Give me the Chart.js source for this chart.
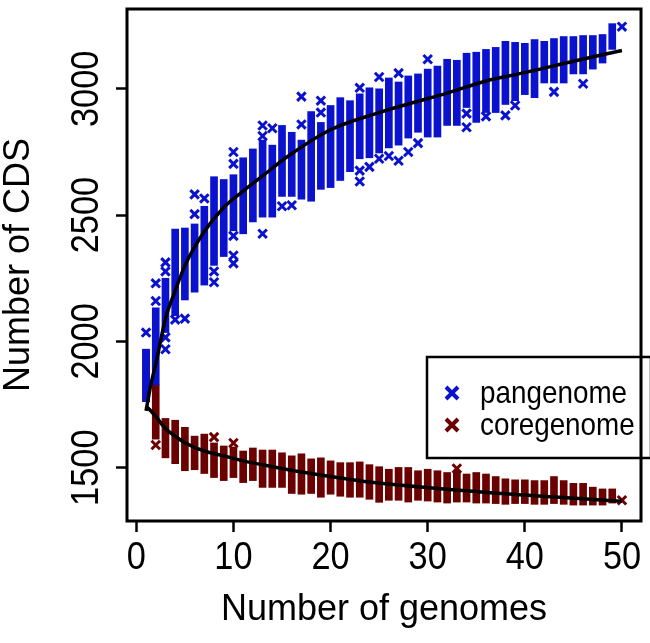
<!DOCTYPE html>
<html>
<head>
<meta charset="utf-8">
<script src="https://cdn.jsdelivr.net/npm/chart.js@4/dist/chart.umd.min.js"></script>
<style>
  html, body { margin: 0; padding: 0; background: #fff; }
  #wrap { width: 650px; height: 643px; }
</style>
</head>
<body>
<div id="wrap"><canvas id="pangenome-chart"></canvas></div>
<script>
// number of genomes sampled (x)
const genomes = [1,2,3,4,5,6,7,8,9,10,11,12,13,14,15,16,17,18,19,20,21,22,23,24,25,
                 26,27,28,29,30,31,32,33,34,35,36,37,38,39,40,41,42,43,44,45,46,47,48,49,50];

// dense part of each column of permutations (top / bottom)
const panHigh = [1969,2133,2250,2445,2449,2465,2535,2652,2641,2660,2727,2762,2797,2777,2855,2828,2797,2910,2867,2934,2965,2953,2980,3004,3000,
                 3043,3027,3051,3059,3078,3090,3117,3113,3141,3145,3156,3164,3188,3184,3180,3195,3188,3199,3207,3207,3211,3211,3215,3258,null];
const panLow  = [1762,1828,2035,2102,2164,2195,2223,2301,2336,2438,2426,2473,2492,2492,2574,2574,2563,2555,2602,2609,2637,2672,2723,2727,2746,
                 2766,2777,2805,2828,2809,2809,2855,2855,2926,2867,2906,2906,2938,2953,2977,2965,3023,3023,3023,3059,3059,3078,3102,3156,null];
const coreHigh = [1969,1828,1695,1688,1660,1625,1633,1598,1586,1582,1566,1578,1570,1570,1559,1547,1555,1535,1539,1527,1520,1520,1523,1512,1504,
                  1494,1501,1501,1488,1494,1488,1481,1488,1475,1481,1475,1465,1456,1452,1452,1449,1449,1465,1449,1438,1438,1423,1416,1416,null];
const coreLow  = [1762,1613,1539,1516,1488,1492,1477,1461,1449,1461,1441,1449,1422,1422,1422,1398,1395,1398,1383,1395,1387,1383,1383,1375,1363,
                  1371,1371,1364,1371,1368,1364,1360,1364,1364,1360,1360,1358,1355,1358,1358,1355,1355,1358,1355,1352,1352,1352,1352,1360,null];

// loose single points outside the dense columns
const panOutN = [1,2,2,3,3,3,3,4,5,6,6,7,8,8,10,10,10,10,10,13,13,13,14,15,16,17,17,19,19,23,23,23,24,25,25,26,27,27,28,29,30,34,34,36,38,39,43,46,50];
const panOutV = [2035,2230,2160,2313,2277,2016,1969,2086,2090,2582,2504,2566,2277,2234,2750,2703,2418,2340,2309,2855,2813,2426,2844,2535,2539,2969,2859,
                 2953,2906,3004,2676,2633,2691,3047,2723,2734,3062,2715,2750,2785,3117,2902,2848,2891,2895,2934,2988,3020,3246];
const coreOutN = [2,8,10,33,50];
const coreOutV = [1590,1621,1598,1497,1371];

// fitted curves
const panFitN = [1,1.5,2,3,4,5,7,9,11,13,15.5,20,25,28,32,36,40,45,50];
const panFitV = [1725,1830,1910,2090,2200,2300,2435,2530,2595,2655,2730,2838,2906,2940,2983,3031,3064,3109,3152];
const coreFitN = [1,2,3,4,5,7,9,11,14,17,20.5,24,35.5,45.6,50];
const coreFitV = [1745,1703,1655,1625,1599,1566,1547,1527,1504,1483,1462,1443,1404,1378,1367];

const xTicks = [0,10,20,30,40,50];
const yTicks = [1500,2000,2500,3000];

const panColor = '#0A12CD';
const coreColor = '#6A0000';
const fontFamily = "'Liberation Sans', Arial, sans-serif";

const columns = (lo, hi) => genomes
  .map((n, i) => hi[i] == null ? null : { x: n, y: [lo[i], hi[i]] })
  .filter(d => d);
const points = (ns, vs) => ns.map((n, i) => ({ x: n, y: vs[i] }));

// slightly narrow text, like the R device output
function narrowText(ctx, text, x, y, angle, squeeze) {
  ctx.save();
  ctx.translate(x, y);
  ctx.rotate(angle);
  ctx.scale(squeeze, 1);
  ctx.fillText(text, 0, 0);
  ctx.restore();
}

// box, tick labels and legend, drawn like the R plot
const framePlugin = {
  id: 'frame',
  afterDraw(chart) {
    const ctx = chart.ctx;
    const a = chart.chartArea;
    const xs = chart.scales.x;
    const ys = chart.scales.y;
    ctx.save();
    ctx.strokeStyle = '#000';
    ctx.lineWidth = 3;
    ctx.strokeRect(a.left, a.top, a.right - a.left, a.bottom - a.top);

    ctx.fillStyle = '#000';
    ctx.font = '39px ' + fontFamily;
    ctx.textAlign = 'center';
    ctx.textBaseline = 'middle';
    xTicks.forEach(v => narrowText(ctx, String(v), xs.getPixelForValue(v), a.bottom + 37, 0, 0.88));
    yTicks.forEach(v => narrowText(ctx, String(v), ys.right - 40, ys.getPixelForValue(v), -Math.PI / 2, 0.88));

    // legend
    ctx.lineWidth = 2.5;
    ctx.strokeRect(427, 357, 224, 101);
    const items = [['pangenome', panColor, 393], ['coregenome', coreColor, 425]];
    ctx.font = '32px ' + fontFamily;
    ctx.textAlign = 'left';
    items.forEach(([label, color, y]) => {
      ctx.strokeStyle = color;
      ctx.lineWidth = 4;
      ctx.beginPath();
      ctx.moveTo(446, y - 6); ctx.lineTo(458, y + 6);
      ctx.moveTo(458, y - 6); ctx.lineTo(446, y + 6);
      ctx.stroke();
      ctx.fillStyle = '#000';
      narrowText(ctx, label, 480, y + 1, 0, 0.87);
    });
    ctx.restore();
  }
};

new Chart('pangenome-chart', {
  type: 'scatter',
  data: {
    datasets: [
      { type: 'line', label: 'pan fit', data: points(panFitN, panFitV), borderColor: '#000', borderWidth: 3.5,
        pointRadius: 0, fill: false, cubicInterpolationMode: 'monotone', order: 0 },
      { type: 'line', label: 'core fit', data: points(coreFitN, coreFitV), borderColor: '#000', borderWidth: 3.5,
        pointRadius: 0, fill: false, cubicInterpolationMode: 'monotone', order: 0 },
      { type: 'scatter', label: 'pangenome', data: points(panOutN, panOutV), pointStyle: 'crossRot',
        pointRadius: 6, borderWidth: 3, borderColor: panColor, backgroundColor: panColor, order: 1 },
      { type: 'bar', label: 'pangenome columns', data: columns(panLow, panHigh), backgroundColor: panColor,
        barThickness: 7, grouped: false, borderWidth: 0, order: 1 },
      { type: 'scatter', label: 'coregenome', data: points(coreOutN, coreOutV), pointStyle: 'crossRot',
        pointRadius: 6, borderWidth: 3, borderColor: coreColor, backgroundColor: coreColor, order: 2 },
      { type: 'bar', label: 'coregenome columns', data: columns(coreLow, coreHigh), backgroundColor: coreColor,
        barThickness: 7, grouped: false, borderWidth: 0, order: 2 }
    ]
  },
  options: {
    responsive: true,
    maintainAspectRatio: false,
    animation: false,
    layout: { padding: { top: 2, right: 3, left: 0, bottom: 0 } },
    plugins: { legend: { display: false }, tooltip: { enabled: false } },
    scales: {
      x: {
        type: 'linear',
        min: -0.96,
        max: 51.96,
        offset: false,
        afterBuildTicks: s => { s.ticks = xTicks.map(value => ({ value })); },
        afterFit: s => { s.height = 122; s.paddingLeft = 0; s.paddingRight = 0; },
        ticks: { display: false },
        grid: { display: true, offset: false, drawOnChartArea: false, drawTicks: true, tickLength: 11, tickWidth: 2.5, tickColor: '#000' },
        border: { display: false },
        title: { display: true, text: 'Number of genomes', color: '#000',
                 font: { family: fontFamily, size: 36, lineHeight: 1 }, padding: { top: 0, bottom: 15 } }
      },
      y: {
        type: 'linear',
        min: 1289,
        max: 3316,
        beginAtZero: false,
        afterBuildTicks: s => { s.ticks = yTicks.map(value => ({ value })); },
        afterFit: s => { s.width = 127; },
        ticks: { display: false },
        grid: { display: true, drawOnChartArea: false, drawTicks: true, tickLength: 11, tickWidth: 2.5, tickColor: '#000' },
        border: { display: false },
        title: { display: true, text: 'Number of CDS', color: '#000',
                 font: { family: fontFamily, size: 36, lineHeight: 1 }, padding: { top: 1, bottom: 0 } }
      }
    }
  },
  plugins: [framePlugin]
});
</script>
</body>
</html>
